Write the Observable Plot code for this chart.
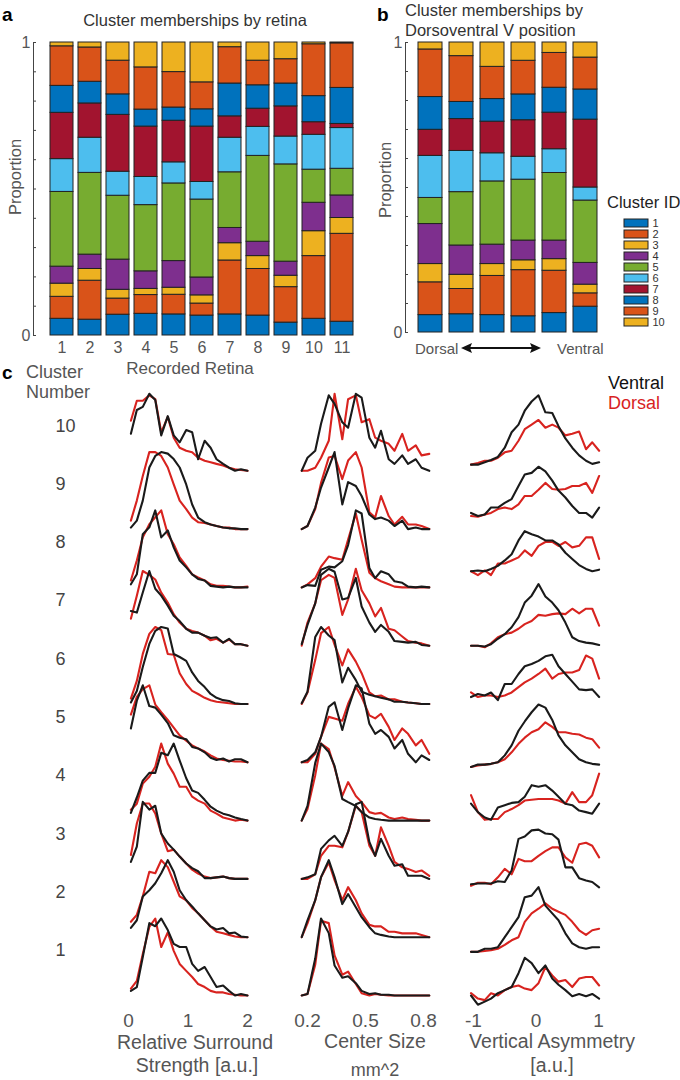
<!DOCTYPE html>
<html>
<head>
<meta charset="utf-8">
<script src="https://cdn.jsdelivr.net/npm/d3@7"></script>
<script src="https://cdn.jsdelivr.net/npm/@observablehq/plot@0.6"></script>
<style>
  html, body { margin: 0; padding: 0; background: #fff; }
  #root { position: relative; width: 680px; height: 1080px; overflow: hidden; font-family: "Liberation Sans", Arial, sans-serif; }
  .t { position: absolute; white-space: nowrap; line-height: 1; }
</style>
</head>
<body>
<div id="root"></div>
<script>
// ---------------- DATA ----------------
const clusterIds = [1, 2, 3, 4, 5, 6, 7, 8, 9, 10];
const clusterColors = ["#0072BD", "#D95319", "#EDB120", "#7E2F8E", "#77AC30", "#4DBEEE", "#A2142F", "#0072BD", "#D95319", "#EDB120"];
const propTicks = [0, 0.1, 0.2, 0.3, 0.4, 0.5, 0.6, 0.7, 0.8, 0.9, 1];

// panel a: proportion of each cluster (1..10) per recorded retina
const retinaLabels = ["1", "2", "3", "4", "5", "6", "7", "8", "9", "10", "11"];
const retinaProps = [
  [0.057, 0.075, 0.045, 0.058, 0.255, 0.112, 0.158, 0.092, 0.135, 0.013],
  [0.054, 0.133, 0.040, 0.049, 0.279, 0.120, 0.117, 0.074, 0.117, 0.017],
  [0.071, 0.055, 0.030, 0.103, 0.218, 0.082, 0.194, 0.070, 0.115, 0.062],
  [0.074, 0.064, 0.021, 0.060, 0.226, 0.096, 0.172, 0.058, 0.144, 0.085],
  [0.072, 0.067, 0.024, 0.091, 0.265, 0.072, 0.142, 0.045, 0.121, 0.101],
  [0.068, 0.041, 0.028, 0.061, 0.266, 0.060, 0.189, 0.059, 0.092, 0.136],
  [0.072, 0.184, 0.059, 0.052, 0.190, 0.118, 0.073, 0.112, 0.124, 0.016],
  [0.068, 0.159, 0.044, 0.049, 0.293, 0.099, 0.062, 0.080, 0.084, 0.062],
  [0.044, 0.121, 0.039, 0.048, 0.332, 0.095, 0.103, 0.078, 0.083, 0.057],
  [0.057, 0.214, 0.085, 0.097, 0.113, 0.119, 0.043, 0.089, 0.177, 0.006],
  [0.047, 0.300, 0.054, 0.077, 0.091, 0.139, 0.014, 0.123, 0.152, 0.003]
];

// panel b: proportion of each cluster per dorsoventral position (dorsal -> ventral)
const dvLabels = ["1", "2", "3", "4", "5", "6"];
const dvProps = [
  [0.060, 0.113, 0.063, 0.138, 0.090, 0.145, 0.090, 0.113, 0.164, 0.024],
  [0.063, 0.087, 0.049, 0.101, 0.184, 0.142, 0.110, 0.059, 0.158, 0.047],
  [0.060, 0.135, 0.041, 0.067, 0.218, 0.097, 0.109, 0.078, 0.111, 0.084],
  [0.056, 0.159, 0.034, 0.068, 0.210, 0.079, 0.126, 0.089, 0.116, 0.063],
  [0.067, 0.146, 0.040, 0.064, 0.233, 0.082, 0.126, 0.086, 0.120, 0.036],
  [0.089, 0.046, 0.030, 0.075, 0.215, 0.045, 0.234, 0.104, 0.110, 0.052]
];

// panel c: bin positions
const surroundBins = [0.04, 0.14, 0.24, 0.35, 0.45, 0.55, 0.66, 0.76, 0.86, 0.97, 1.07, 1.17, 1.28, 1.38, 1.48, 1.59, 1.69, 1.79, 1.89, 2.0];
const centerBins = [0.17, 0.20, 0.24, 0.27, 0.31, 0.34, 0.38, 0.41, 0.45, 0.48, 0.52, 0.55, 0.58, 0.62, 0.65, 0.69, 0.72, 0.76, 0.79, 0.83];
const asymBins = [-1.04, -0.93, -0.82, -0.72, -0.61, -0.50, -0.39, -0.28, -0.18, -0.07, 0.04, 0.15, 0.26, 0.36, 0.47, 0.58, 0.69, 0.80, 0.90, 1.01];

// normalized histograms, clusters 1..10 (ventral = black, dorsal = red)
const surroundVentral = [
  [0.06,0.11,0.50,0.94,0.90,1.0,0.85,0.67,0.63,0.63,0.41,0.32,0.37,0.24,0.11,0.13,0.06,0.0,0.02,0.0],
  [0.12,0.22,0.53,0.61,0.70,0.83,1.0,0.85,0.61,0.48,0.40,0.31,0.22,0.14,0.10,0.12,0.05,0.06,0.01,0.0],
  [0.22,0.42,1.0,0.90,0.95,0.59,0.46,0.38,0.29,0.20,0.14,0.10,0.01,0.01,0.02,0.03,0.01,0.0,0.0,0.0],
  [0.10,0.30,0.52,0.62,0.62,0.88,0.85,1.0,0.78,0.55,0.39,0.36,0.27,0.18,0.13,0.09,0.07,0.04,0.02,0.0],
  [0.44,0.80,1.0,0.73,0.71,0.62,0.51,0.35,0.32,0.30,0.20,0.18,0.13,0.06,0.03,0.05,0.01,0.04,0.04,0.0],
  [0.02,0.17,0.48,0.78,0.95,1.0,0.98,0.65,0.61,0.56,0.41,0.30,0.22,0.13,0.08,0.05,0.04,0.01,0.0,0.0],
  [0.45,0.43,0.69,0.97,0.74,0.65,0.52,0.39,0.32,0.22,0.17,0.17,0.13,0.10,0.11,0.04,0.09,0.02,0.02,0.0],
  [0.04,0.17,0.69,0.78,1.0,0.65,0.74,0.52,0.35,0.26,0.17,0.11,0.09,0.02,0.01,0.0,0.01,0.0,0.0,0.0],
  [0.02,0.11,0.37,0.80,0.95,1.0,0.98,0.91,0.80,0.58,0.32,0.15,0.09,0.06,0.04,0.02,0.01,0.01,0.0,0.0],
  [0.48,0.79,0.83,1.0,0.92,0.46,0.71,0.46,0.37,0.53,0.50,0.15,0.39,0.30,0.15,0.09,0.04,0.0,0.02,0.0]
];
const surroundDorsal = [
  [0.09,0.19,0.54,0.89,1.0,0.63,0.82,0.58,0.41,0.32,0.24,0.15,0.11,0.06,0.04,0.04,0.02,0.01,0.0,0.0],
  [0.20,0.29,0.53,0.85,0.83,1.0,0.91,0.72,0.53,0.48,0.38,0.31,0.22,0.14,0.07,0.05,0.03,0.01,0.0,0.0],
  [0.31,0.72,0.98,0.98,0.85,0.59,0.36,0.38,0.29,0.20,0.12,0.07,0.03,0.01,0.02,0.03,0.01,0.0,0.0,0.0],
  [0.14,0.22,0.48,0.57,0.70,1.0,0.74,0.61,0.44,0.44,0.31,0.26,0.22,0.13,0.09,0.04,0.02,0.0,0.01,0.0],
  [0.62,0.85,0.95,1.0,0.75,0.65,0.55,0.45,0.35,0.28,0.22,0.18,0.14,0.09,0.05,0.03,0.02,0.01,0.01,0.0],
  [0.07,0.30,0.65,0.91,1.0,0.96,0.65,0.64,0.40,0.26,0.17,0.13,0.08,0.05,0.03,0.02,0.01,0.0,0.0,0.0],
  [0.35,0.65,0.97,0.92,0.86,0.69,0.56,0.41,0.30,0.22,0.19,0.17,0.13,0.07,0.09,0.04,0.08,0.02,0.02,0.0],
  [0.09,0.35,0.65,0.82,0.91,1.0,0.69,0.56,0.39,0.28,0.17,0.13,0.09,0.04,0.02,0.02,0.01,0.0,0.0,0.01],
  [0.11,0.37,0.69,1.0,1.0,0.95,0.80,0.58,0.37,0.26,0.15,0.09,0.08,0.06,0.04,0.02,0.02,0.0,0.0,0.0],
  [0.65,0.91,0.91,0.98,0.93,0.50,0.70,0.43,0.30,0.26,0.24,0.17,0.13,0.11,0.09,0.07,0.04,0.02,0.01,0.0]
];
const centerVentral = [
  [0.0,0.02,0.48,1.0,0.81,0.39,0.23,0.25,0.16,0.06,0.02,0.03,0.01,0.01,0.0,0.0,0.0,0.0,0.0,0.0],
  [0.0,0.22,0.48,0.78,1.0,0.78,0.43,0.56,0.39,0.26,0.13,0.05,0.03,0.01,0.0,0.0,0.0,0.0,0.0,0.0],
  [0.0,0.02,0.06,0.39,0.50,0.56,0.43,0.61,0.97,1.0,0.48,0.30,0.52,0.30,0.17,0.19,0.04,0.04,0.04,0.0],
  [0.0,0.19,0.75,1.0,0.89,0.71,0.28,0.24,0.19,0.11,0.04,0.02,0.01,0.0,0.0,0.0,0.0,0.0,0.0,0.0],
  [0.0,0.03,0.13,0.33,0.72,0.78,0.42,0.70,1.0,0.96,0.50,0.37,0.42,0.33,0.18,0.29,0.11,0.0,0.09,0.03],
  [0.01,0.16,0.87,1.0,0.89,0.83,0.28,0.47,0.31,0.16,0.12,0.10,0.08,0.06,0.03,0.03,0.02,0.01,0.0,0.0],
  [0.02,0.27,0.55,0.92,1.0,0.96,0.60,0.62,0.88,0.51,0.30,0.18,0.27,0.18,0.06,0.05,0.04,0.05,0.01,0.0],
  [0.0,0.03,0.02,0.23,0.27,0.26,0.34,0.55,1.0,0.96,0.25,0.12,0.21,0.17,0.08,0.06,0.01,0.0,0.01,0.0],
  [0.0,0.04,0.28,0.54,0.80,1.0,0.32,0.61,0.56,0.43,0.19,0.13,0.15,0.11,0.04,0.11,0.0,0.02,0.0,0.0],
  [0.0,0.17,0.26,0.61,0.98,0.87,0.63,0.56,1.0,0.95,0.43,0.30,0.52,0.15,0.09,0.20,0.09,0.15,0.04,0.0]
];
const centerDorsal = [
  [0.0,0.02,0.40,0.97,0.94,0.52,0.27,0.31,0.15,0.03,0.0,0.02,0.01,0.0,0.0,0.0,0.0,0.0,0.0,0.0],
  [0.0,0.18,0.48,0.78,0.97,0.74,0.48,0.65,0.48,0.31,0.16,0.14,0.14,0.07,0.07,0.05,0.05,0.05,0.03,0.0],
  [0.0,0.0,0.06,0.30,0.43,0.43,0.41,0.61,0.95,0.87,0.43,0.30,0.67,0.43,0.22,0.15,0.13,0.09,0.11,0.04],
  [0.0,0.15,0.59,1.0,0.93,0.69,0.32,0.50,0.32,0.24,0.11,0.09,0.10,0.04,0.02,0.04,0.02,0.01,0.0,0.0],
  [0.0,0.0,0.11,0.33,0.59,0.57,0.54,0.76,0.98,0.85,0.61,0.57,0.63,0.46,0.29,0.44,0.37,0.22,0.29,0.11],
  [0.0,0.15,0.57,0.92,1.0,0.77,0.50,0.71,0.55,0.40,0.15,0.10,0.11,0.06,0.06,0.03,0.02,0.01,0.0,0.0],
  [0.0,0.30,0.55,0.85,0.92,0.88,0.40,0.60,1.0,0.72,0.55,0.38,0.49,0.22,0.20,0.12,0.06,0.04,0.03,0.0],
  [0.0,0.04,0.12,0.27,0.40,0.38,0.36,0.62,0.96,0.62,0.19,0.12,0.08,0.04,0.01,0.0,0.0,0.0,0.0,0.0],
  [0.0,0.04,0.26,0.60,0.93,0.95,0.65,0.89,1.0,0.80,0.22,0.15,0.43,0.17,0.06,0.16,0.06,0.06,0.04,0.0],
  [0.0,0.0,0.04,0.17,0.39,1.0,0.41,0.93,0.98,0.63,0.67,0.43,0.39,0.35,0.26,0.48,0.26,0.33,0.20,0.22]
];
const asymVentral = [
  [0.0,-0.12,-0.08,-0.04,0.03,0.07,0.11,0.29,0.49,0.42,0.29,0.39,0.22,0.14,0.07,-0.01,0.02,-0.01,0.02,-0.04],
  [-0.19,-0.19,-0.15,-0.15,-0.13,0.0,0.13,0.26,0.52,0.54,0.65,0.41,0.31,0.22,0.05,-0.08,-0.13,-0.15,-0.13,-0.13],
  [-0.07,-0.06,-0.06,-0.06,-0.03,-0.04,0.11,0.52,0.55,0.63,0.64,0.59,0.58,0.51,0.15,0.15,0.01,-0.02,-0.04,-0.11],
  [0.22,0.11,0.04,0.01,0.17,0.20,0.23,0.24,0.31,0.46,0.44,0.46,0.39,0.31,0.22,0.20,0.13,0.11,0.09,0.22],
  [-0.06,-0.03,-0.03,-0.02,0.0,0.09,0.22,0.41,0.53,0.65,0.75,0.71,0.55,0.35,0.22,0.13,0.04,0.0,-0.02,-0.03],
  [0.09,0.13,0.11,0.15,0.05,0.26,0.26,0.39,0.49,0.52,0.56,0.62,0.64,0.49,0.39,0.29,0.19,0.18,0.19,0.09],
  [0.0,0.0,-0.01,0.02,0.09,0.15,0.24,0.37,0.56,0.65,0.80,0.64,0.56,0.46,0.30,0.11,0.06,0.04,0.03,0.01],
  [0.21,0.22,0.21,0.24,0.28,0.35,0.43,0.61,0.73,0.69,0.66,0.61,0.61,0.56,0.45,0.37,0.29,0.24,0.21,0.23],
  [0.21,0.17,0.19,0.28,0.28,0.34,0.39,0.56,0.71,0.73,0.81,0.75,0.63,0.50,0.41,0.30,0.21,0.21,0.15,0.28],
  [0.08,0.08,0.11,0.14,0.18,0.30,0.50,0.60,0.78,0.90,0.98,0.76,0.75,0.58,0.42,0.30,0.20,0.13,0.09,0.11]
];
const asymDorsal = [
  [0.03,-0.04,-0.06,0.03,0.0,0.07,0.11,0.13,0.09,0.07,0.16,0.37,0.26,0.18,0.20,0.11,0.22,0.24,0.24,0.13],
  [-0.19,-0.19,-0.18,-0.17,-0.15,-0.10,-0.04,0.0,0.20,0.31,0.37,0.44,0.37,0.33,0.29,0.20,0.09,0.03,0.09,0.11],
  [-0.09,-0.05,-0.05,-0.07,0.02,0.13,0.06,0.26,0.23,0.23,0.30,0.36,0.41,0.41,0.28,0.21,0.45,0.47,0.43,0.28],
  [0.33,0.11,0.01,0.02,0.02,0.11,0.15,0.20,0.26,0.27,0.28,0.28,0.28,0.26,0.22,0.37,0.24,0.24,0.33,0.61],
  [-0.06,-0.04,-0.03,-0.02,0.0,0.04,0.13,0.24,0.32,0.39,0.43,0.52,0.46,0.39,0.39,0.37,0.36,0.32,0.30,0.19],
  [0.15,0.09,0.11,0.11,0.09,0.11,0.15,0.22,0.28,0.33,0.39,0.46,0.33,0.39,0.41,0.41,0.44,0.63,0.59,0.33],
  [0.0,0.0,-0.02,0.03,0.11,0.15,0.17,0.22,0.28,0.32,0.40,0.39,0.41,0.42,0.41,0.48,0.42,0.48,0.48,0.26],
  [0.21,0.16,0.22,0.16,0.31,0.31,0.35,0.39,0.48,0.41,0.54,0.59,0.59,0.54,0.59,0.52,0.54,0.65,0.65,0.37],
  [0.17,0.16,0.19,0.21,0.26,0.28,0.26,0.32,0.43,0.43,0.51,0.60,0.52,0.51,0.52,0.56,0.56,0.60,0.47,0.69],
  [0.08,0.10,0.13,0.13,0.17,0.24,0.26,0.39,0.54,0.60,0.66,0.56,0.60,0.56,0.46,0.48,0.51,0.28,0.37,0.26]
];
const surroundTicks = [0, 1, 2];
const centerTicks = [0.2, 0.5, 0.8];
const asymTicks = [-1, 0, 1];

// ---------------- LAYOUT ----------------
const root = document.getElementById("root");
const FONT = '"Liberation Sans", Arial, sans-serif';
const GRAY = "#555";
const RED = "#d8231f";
const BLACK = "#1a1a1a";

function txt(s, x, y, o = {}) {
  const d = document.createElement("div");
  d.className = "t";
  d.textContent = s;
  d.style.left = x + "px";
  d.style.top = y + "px";
  d.style.fontSize = (o.size || 16) + "px";
  d.style.color = o.color || GRAY;
  if (o.bold) d.style.fontWeight = "bold";
  const tx = o.anchor === "start" ? "0" : "-50%";
  d.style.transform = `translate(${tx}, -50%)` + (o.rotate ? ` rotate(${o.rotate}deg)` : "");
  root.appendChild(d);
}
function place(el, left, top) {
  el.style.position = "absolute";
  el.style.left = left + "px";
  el.style.top = top + "px";
  root.appendChild(el);
}
const baseStyle = (size) => ({background: "transparent", overflow: "visible", fontFamily: FONT, fontSize: size + "px", color: GRAY});
const propFormat = d => (d === 0 || d === 1) ? String(d) : "";
const plainFormat = d => String(d);

// ---- panel a ----
const dataA = retinaLabels.flatMap((r, i) => retinaProps[i].map((p, j) => ({group: r, cluster: clusterIds[j], p})));
place(Plot.plot({
  width: 370, height: 360, marginLeft: 33, marginRight: 7, marginTop: 42, marginBottom: 25,
  style: baseStyle(16),
  x: {domain: retinaLabels, padding: 0.17, insetLeft: 7},
  y: {domain: [0, 1]},
  color: {type: "ordinal", domain: clusterIds, range: clusterColors},
  marks: [
    Plot.barY(dataA, {x: "group", y: "p", fill: "cluster", stroke: "#222", strokeWidth: 1}),
    Plot.frame({anchor: "left", stroke: "#444"}),
    Plot.axisY({ticks: propTicks, tickSize: -3, tickPadding: 6, tickFormat: propFormat, label: null, stroke: "#444"}),
    Plot.axisX({tickSize: 0, tickPadding: 6, label: null})
  ]
}), 0, 0);

// ---- panel b ----
const dataB = dvLabels.flatMap((r, i) => dvProps[i].map((p, j) => ({group: r, cluster: clusterIds[j], p})));
place(Plot.plot({
  width: 245, height: 360, marginLeft: 35, marginRight: 8, marginTop: 42, marginBottom: 28,
  style: baseStyle(16),
  x: {domain: dvLabels, padding: 0.21, insetLeft: 4, axis: null},
  y: {domain: [0, 1]},
  color: {type: "ordinal", domain: clusterIds, range: clusterColors},
  marks: [
    Plot.barY(dataB, {x: "group", y: "p", fill: "cluster", stroke: "#222", strokeWidth: 1}),
    Plot.frame({anchor: "left", stroke: "#444"}),
    Plot.axisY({ticks: propTicks, tickSize: -3, tickPadding: 6, tickFormat: propFormat, label: null, stroke: "#444"})
  ]
}), 370, 0);

// ---- legend ----
place(Plot.plot({
  width: 65, height: 135, marginLeft: 9, marginRight: 32, marginTop: 7.4, marginBottom: 8,
  style: baseStyle(11),
  x: {domain: [0, 1], axis: null},
  y: {type: "band", domain: clusterIds, padding: 0.31, axis: null},
  color: {type: "ordinal", domain: clusterIds, range: clusterColors},
  marks: [
    Plot.barX(clusterIds, {x1: 0, x2: 1, y: d => d, fill: d => d, stroke: "#222", strokeWidth: 1}),
    Plot.text(clusterIds, {x: 1, y: d => d, text: d => String(d), dx: 4, textAnchor: "start", fill: "#333", fontSize: 11})
  ]
}), 615, 205);

// ---- panel c ----
const rowStep = 58.3 / 77;
function colData(bins, series, group) {
  const out = [];
  clusterIds.forEach((c, ci) => {
    bins.forEach((b, k) => out.push({cluster: c, group, x: b, y: ci * rowStep + series[ci][k]}));
  });
  return out;
}
function colPlot(bins, ventral, dorsal, ticks, width, left, ml, mr, domain, extra = []) {
  const dv = colData(bins, ventral, "Ventral");
  const dd = colData(bins, dorsal, "Dorsal");
  const el = Plot.plot({
    width, height: 710, marginLeft: ml, marginRight: mr, marginTop: 9, marginBottom: 77.3,
    style: baseStyle(19),
    x: {domain},
    y: {domain: [-0.1, 8.0], axis: null},
    marks: [
      Plot.line(dd, {x: "x", y: "y", z: "cluster", stroke: RED, strokeWidth: 2.1, strokeLinejoin: "round"}),
      Plot.line(dv, {x: "x", y: "y", z: "cluster", stroke: BLACK, strokeWidth: 2.1, strokeLinejoin: "round"}),
      Plot.axisX({ticks, tickSize: 0, tickPadding: 10, tickFormat: plainFormat, label: null}),
      ...extra
    ]
  });
  place(el, left, 370);
}
colPlot(surroundBins, surroundVentral, surroundDorsal, surroundTicks, 280, 0, 128, 33, [0, 2], [
  Plot.text(clusterIds, {y: (d, i) => i * rowStep + 0.585, frameAnchor: "left", dx: -73, text: d => String(d), fill: "#444", fontSize: 18})
]);
colPlot(centerBins, centerVentral, centerDorsal, centerTicks, 170, 280, 27, 27, [0.2, 0.8]);
colPlot(asymBins, asymVentral, asymDorsal, asymTicks, 170, 450, 23, 22, [-1, 1]);

// ---------------- TEXT ----------------
txt("a", 2, 14, {size: 19, bold: true, color: "#000", anchor: "start"});
txt("Cluster memberships by retina", 195, 20, {size: 16.5, color: "#333"});
txt("Proportion", 15, 177, {size: 16.5, rotate: -90});
txt("Recorded Retina", 190, 368, {size: 17});

txt("b", 377, 14, {size: 19, bold: true, color: "#000", anchor: "start"});
txt("Cluster memberships by", 405, 10, {size: 16.5, color: "#333", anchor: "start"});
txt("Dorsoventral V position", 405, 30, {size: 16.5, color: "#333", anchor: "start"});
txt("Proportion", 385, 180, {size: 16.5, rotate: -90});
txt("Cluster ID", 607, 202, {size: 16.5, color: "#222", anchor: "start"});
txt("Dorsal", 415, 348, {size: 15, anchor: "start"});
txt("Ventral", 557, 348, {size: 15, anchor: "start"});

// double arrow between Dorsal and Ventral
const ns = "http://www.w3.org/2000/svg";
const arr = document.createElementNS(ns, "svg");
arr.setAttribute("width", "80"); arr.setAttribute("height", "14");
arr.innerHTML = '<line x1="8" y1="7" x2="72" y2="7" stroke="#111" stroke-width="2"/>' +
  '<path d="M0,7 L11,2 L9,7 L11,12 Z" fill="#111"/>' +
  '<path d="M80,7 L69,2 L71,7 L69,12 Z" fill="#111"/>';
place(arr, 461, 341);

txt("c", 2, 372, {size: 19, bold: true, color: "#000", anchor: "start"});
txt("Cluster", 26, 372, {size: 18, color: "#555", anchor: "start"});
txt("Number", 26, 392, {size: 18, color: "#555", anchor: "start"});
txt("Ventral", 608, 383, {size: 18, color: "#111", anchor: "start"});
txt("Dorsal", 608, 403, {size: 18, color: RED, anchor: "start"});

txt("Relative Surround", 195, 1043, {size: 19.5});
txt("Strength [a.u.]", 197, 1066, {size: 19.5});
txt("Center Size", 375, 1042, {size: 19.5});
txt("mm^2", 375, 1070, {size: 18});
txt("Vertical Asymmetry", 552, 1042, {size: 19.5});
txt("[a.u.]", 552, 1066, {size: 19.5});
</script>
</body>
</html>
